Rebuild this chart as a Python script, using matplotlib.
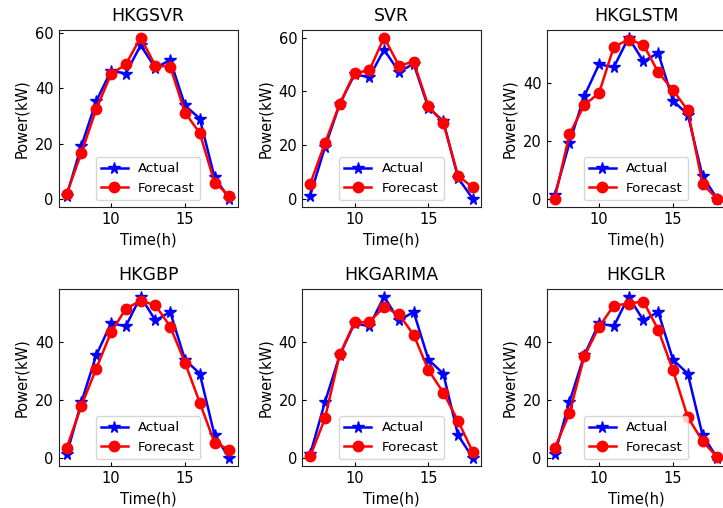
import matplotlib
matplotlib.use("Agg")
import matplotlib.pyplot as plt

hours = [7, 8, 9, 10, 11, 12, 13, 14, 15, 16, 17, 18]
actual = [1.2, 19.2, 35.3, 46.3, 45.3, 55.5, 47.3, 50.2, 33.8, 29.0, 7.8, 0.0]

titles = ["HKGSVR", "SVR", "HKGLSTM", "HKGBP", "HKGARIMA", "HKGLR"]
fc_hkgsvr = [1.8, 16.7, 32.4, 45.1, 48.6, 58.3, 48.1, 47.8, 31.2, 23.8, 5.9, 1.2]
fc_svr = [5.5, 20.7, 35.3, 46.8, 47.8, 60.0, 49.6, 51.0, 34.4, 28.3, 8.6, 4.3]
fc_hkglstm = [0.0, 22.2, 32.3, 36.4, 52.3, 54.8, 53.1, 43.6, 37.4, 30.5, 5.1, 0.0]
fc_hkgbp = [3.4, 18.0, 30.7, 43.2, 51.3, 54.1, 52.5, 45.2, 32.8, 19.0, 5.2, 2.9]
fc_hkgarima = [0.5, 13.6, 35.6, 46.6, 46.8, 51.9, 49.4, 42.3, 30.2, 22.5, 12.7, 2.0]
fc_hkglr = [3.3, 15.3, 34.9, 45.1, 52.4, 53.1, 53.8, 44.1, 30.1, 14.0, 5.8, 0.2]
forecasts = [fc_hkgsvr, fc_svr, fc_hkglstm, fc_hkgbp, fc_hkgarima, fc_hkglr]

W, H = 723, 508
fig = plt.figure(figsize=(W / 100, H / 100), dpi=100)

col_left = [58.5, 302, 546.5]
ax_w = 179
row_top = [29.5, 288.5]
ax_h = 177.5

for i, (title, fc) in enumerate(zip(titles, forecasts)):
    r, c = divmod(i, 3)
    left = col_left[c] / W
    bottom = (H - row_top[r] - ax_h) / H
    ax = fig.add_axes([left, bottom, ax_w / W, ax_h / H])
    ax.plot(hours, actual, '-*', color='blue', lw=1.8, ms=8.5, label='Actual')
    ax.plot(hours, fc, '-o', color='red', lw=1.8, ms=7.5, label='Forecast')
    ax.set_title(title, fontsize=12.5)
    ax.set_xlabel('Time(h)', fontsize=10.5)
    ax.set_ylabel('Power(kW)', fontsize=10.5)
    ax.set_xticks([10, 15])
    ax.set_yticks([0, 20, 40, 60] if max(fc) > 56 else [0, 20, 40])
    ax.tick_params(direction='in', labelsize=10.5, length=3)
    for s in ax.spines.values():
        s.set_color('#222222')
    ax.legend(loc='lower center', fontsize=9.6)

fig.savefig('out.png', dpi=100)
